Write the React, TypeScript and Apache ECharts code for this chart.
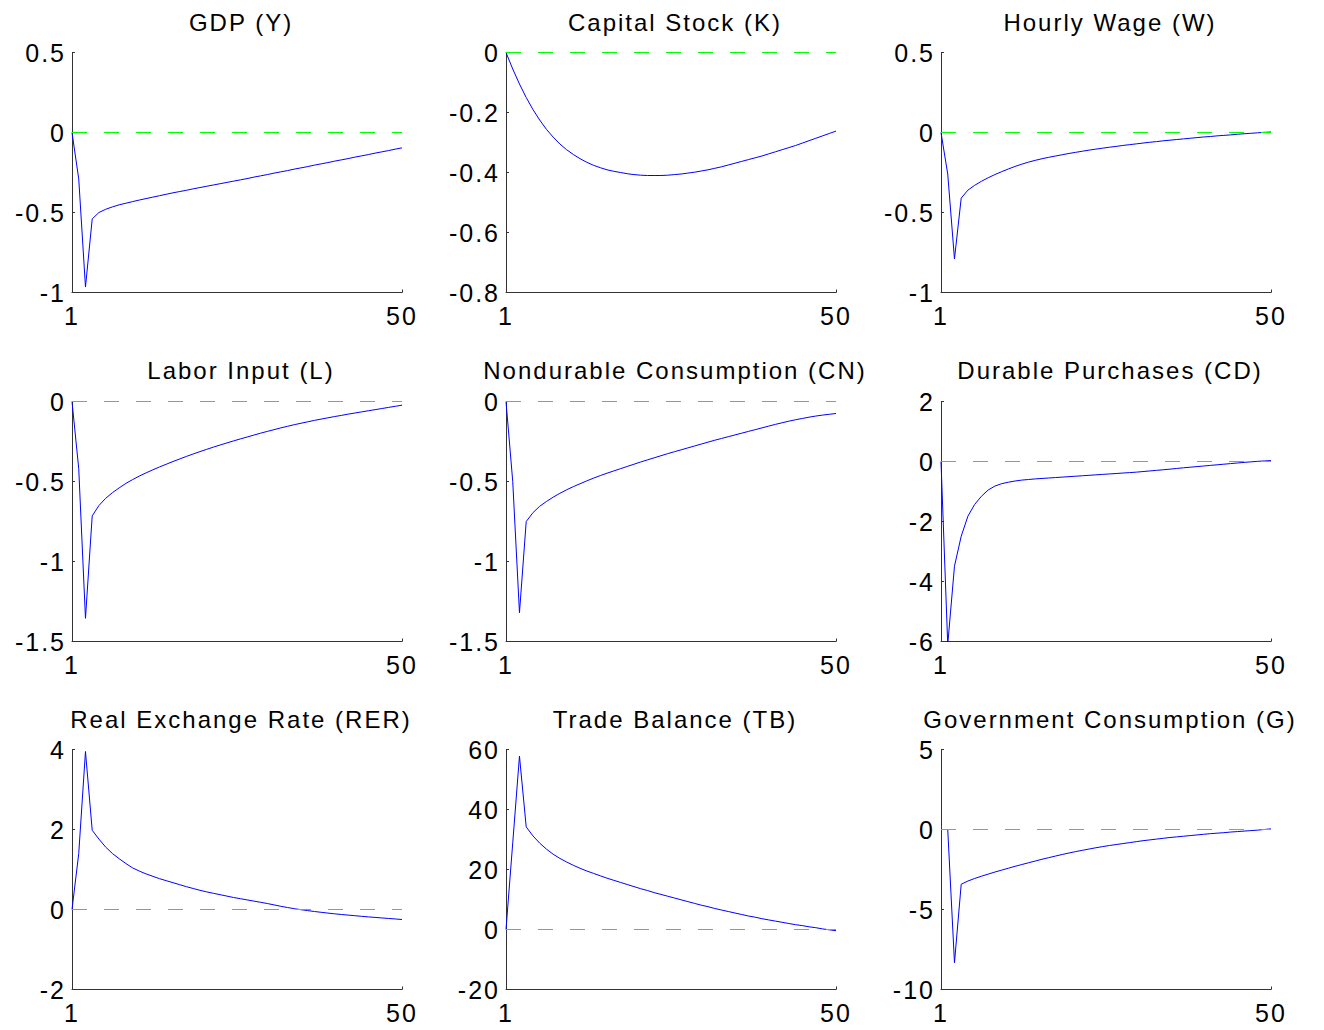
import React, { useEffect, useRef } from "react";
import * as echarts from "echarts";

const periods: number[] = Array.from({ length: 50 }, (_, i) => i + 1);
const xTickValues = [1, 50];

const titles = [
  "GDP (Y)",
  "Capital Stock (K)",
  "Hourly Wage (W)",
  "Labor Input (L)",
  "Nondurable Consumption (CN)",
  "Durable Purchases (CD)",
  "Real Exchange Rate (RER)",
  "Trade Balance (TB)",
  "Government Consumption (G)",
];

const yMins = [-1, -0.8, -1, -1.5, -1.5, -6, -2, -20, -10];
const yMaxs = [0.5, 0, 0.5, 0, 0, 2, 4, 60, 5];
const ySteps = [0.5, 0.2, 0.5, 0.5, 0.5, 2, 2, 20, 5];

const gdp = [
  0, -0.29, -0.966, -0.54, -0.5, -0.48, -0.465, -0.452, -0.442, -0.432,
  -0.422, -0.413, -0.404, -0.395, -0.386, -0.377, -0.369, -0.361, -0.352, -0.344,
  -0.336, -0.328, -0.32, -0.312, -0.304, -0.296, -0.288, -0.279, -0.271, -0.263,
  -0.254, -0.246, -0.238, -0.229, -0.221, -0.213, -0.204, -0.196, -0.188, -0.179,
  -0.171, -0.163, -0.154, -0.146, -0.138, -0.129, -0.121, -0.113, -0.104, -0.096,
];
const capital = [
  0, -0.055, -0.105, -0.15, -0.19, -0.225, -0.256, -0.282, -0.305, -0.324,
  -0.34, -0.354, -0.366, -0.376, -0.384, -0.391, -0.396, -0.4, -0.404, -0.407,
  -0.409, -0.41, -0.41, -0.41, -0.409, -0.407, -0.405, -0.402, -0.399, -0.395,
  -0.391, -0.386, -0.381, -0.375, -0.369, -0.363, -0.357, -0.351, -0.345, -0.338,
  -0.331, -0.324, -0.317, -0.31, -0.302, -0.294, -0.286, -0.278, -0.27, -0.262,
];
const wage = [
  0, -0.26, -0.79, -0.41, -0.36, -0.33, -0.305, -0.283, -0.263, -0.245,
  -0.228, -0.212, -0.198, -0.185, -0.174, -0.164, -0.155, -0.147, -0.139, -0.131,
  -0.124, -0.117, -0.11, -0.104, -0.098, -0.092, -0.087, -0.081, -0.076, -0.071,
  -0.066, -0.061, -0.057, -0.052, -0.048, -0.044, -0.04, -0.036, -0.032, -0.028,
  -0.025, -0.021, -0.018, -0.015, -0.011, -0.008, -0.005, -0.002, 0.001, 0.003,
];
const labor = [
  0, -0.42, -1.355, -0.715, -0.65, -0.605, -0.57, -0.54, -0.512, -0.488,
  -0.466, -0.446, -0.427, -0.409, -0.392, -0.375, -0.359, -0.343, -0.328, -0.313,
  -0.299, -0.285, -0.272, -0.259, -0.246, -0.234, -0.222, -0.21, -0.198, -0.187,
  -0.176, -0.165, -0.155, -0.145, -0.136, -0.127, -0.118, -0.11, -0.102, -0.094,
  -0.087, -0.079, -0.072, -0.065, -0.058, -0.051, -0.044, -0.037, -0.03, -0.023,
];
const nondurable = [
  0, -0.5, -1.32, -0.75, -0.695, -0.655, -0.625, -0.598, -0.574, -0.552,
  -0.532, -0.514, -0.496, -0.479, -0.463, -0.448, -0.434, -0.42, -0.406, -0.392,
  -0.378, -0.365, -0.352, -0.339, -0.326, -0.314, -0.302, -0.29, -0.278, -0.266,
  -0.254, -0.242, -0.231, -0.22, -0.209, -0.198, -0.187, -0.176, -0.165, -0.154,
  -0.143, -0.133, -0.123, -0.114, -0.106, -0.098, -0.091, -0.085, -0.08, -0.075,
];
const durable = [
  0, -6.1, -3.49, -2.49, -1.82, -1.43, -1.16, -0.95, -0.82, -0.74,
  -0.69, -0.65, -0.62, -0.6, -0.58, -0.565, -0.55, -0.535, -0.52, -0.505,
  -0.49, -0.475, -0.46, -0.445, -0.43, -0.415, -0.4, -0.385, -0.37, -0.355,
  -0.335, -0.315, -0.295, -0.275, -0.255, -0.232, -0.21, -0.19, -0.17, -0.15,
  -0.13, -0.11, -0.09, -0.07, -0.05, -0.03, -0.012, 0.005, 0.018, 0.03,
];
const exchangeRate = [
  0, 1.4, 3.95, 1.98, 1.76, 1.56, 1.4, 1.27, 1.15, 1.04,
  0.96, 0.89, 0.83, 0.77, 0.72, 0.67, 0.62, 0.57, 0.525, 0.48,
  0.44, 0.405, 0.37, 0.335, 0.3, 0.27, 0.24, 0.21, 0.18, 0.15,
  0.115, 0.08, 0.05, 0.02, -0.005, -0.028, -0.05, -0.07, -0.09, -0.108,
  -0.125, -0.14, -0.155, -0.17, -0.185, -0.198, -0.211, -0.224, -0.237, -0.25,
];
const tradeBalance = [
  0, 28.9, 57.8, 34.2, 31.2, 28.8, 26.8, 25.1, 23.7, 22.5,
  21.4, 20.4, 19.5, 18.7, 17.9, 17.1, 16.4, 15.7, 15.0, 14.3,
  13.6, 13.0, 12.3, 11.7, 11.1, 10.5, 9.9, 9.3, 8.7, 8.1,
  7.6, 7.0, 6.5, 6.0, 5.5, 5.0, 4.5, 4.1, 3.6, 3.2,
  2.8, 2.4, 2.0, 1.6, 1.3, 0.9, 0.6, 0.2, -0.1, -0.4,
];
const government = [
  0, 0, -8.33, -3.42, -3.22, -3.06, -2.92, -2.79, -2.66, -2.54,
  -2.42, -2.3, -2.19, -2.08, -1.97, -1.86, -1.76, -1.66, -1.56, -1.47,
  -1.38, -1.3, -1.22, -1.14, -1.07, -1.0, -0.94, -0.88, -0.82, -0.76,
  -0.7, -0.65, -0.6, -0.55, -0.5, -0.46, -0.42, -0.38, -0.34, -0.3,
  -0.26, -0.23, -0.2, -0.16, -0.13, -0.1, -0.07, -0.04, 0.0, 0.04,
];

const seriesValues = [gdp, capital, wage, labor, nondurable, durable, exchangeRate, tradeBalance, government];

const FONT = "'Liberation Sans', Arial, sans-serif";
const colLefts = [72, 506, 941];
const rowTops = [52.5, 401.5, 749.5];
const PW = 330;
const PH = 240;
const titleTops = [10, 358, 707];
const titleShift = 4;

export default function App() {
  const ref = useRef<HTMLDivElement>(null);
  useEffect(() => {
    if (!ref.current) return;
    const chart = echarts.init(ref.current, undefined, { renderer: "svg" });
    const grid: any[] = [];
    const xAxis: any[] = [];
    const yAxis: any[] = [];
    const series: any[] = [];
    const title: any[] = [];
    const axisColor = "#333333";
    for (let i = 0; i < 9; i++) {
      const r = Math.floor(i / 3);
      const c = i % 3;
      grid.push({ left: colLefts[c], top: rowTops[r], width: PW, height: PH, containLabel: false });
      title.push({
        text: titles[i],
        left: colLefts[c] + PW / 2 + titleShift,
        top: titleTops[r],
        textAlign: "center",
        padding: 0,
        textStyle: { fontFamily: FONT, fontSize: 24, fontWeight: "normal", color: "#000" },
      });
      xAxis.push({
        type: "value",
        gridIndex: i,
        min: 1,
        max: 50,
        splitLine: { show: false },
        axisLine: { show: true, onZero: false, lineStyle: { color: axisColor, width: 1 } },
        axisTick: { show: true, inside: true, length: 3, customValues: xTickValues, lineStyle: { color: axisColor } },
        axisLabel: {
          customValues: xTickValues,
          margin: 11,
          fontFamily: FONT,
          fontSize: 25,
          color: "#000",
        },
      });
      yAxis.push({
        type: "value",
        gridIndex: i,
        min: yMins[i],
        max: yMaxs[i],
        interval: ySteps[i],
        splitLine: { show: false },
        axisLine: { show: true, onZero: false, lineStyle: { color: axisColor, width: 1 } },
        axisTick: { show: true, inside: true, length: 3, lineStyle: { color: axisColor } },
        axisLabel: {
          margin: 6,
          fontFamily: FONT,
          fontSize: 25,
          color: "#000",
          showMinLabel: true,
          showMaxLabel: true,
          padding: [3, 0, 0, 0],
        },
      });
      series.push({
        type: "line",
        xAxisIndex: i,
        yAxisIndex: i,
        data: periods.map((p, k) => [p, seriesValues[i][k]]),
        showSymbol: false,
        symbol: "none",
        clip: true,
        lineStyle: { color: "#0000ff", width: 1 },
        z: 2,
      });
      series.push({
        type: "line",
        xAxisIndex: i,
        yAxisIndex: i,
        data: xTickValues.map((p) => [p, 0]),
        showSymbol: false,
        symbol: "none",
        lineStyle: { color: "#00ff00", width: 1, type: [15, 17] },
        z: 3,
      });
    }
    chart.setOption({
      animation: false,
      backgroundColor: "#ffffff",
      textStyle: { fontFamily: FONT },
      title,
      grid,
      xAxis,
      yAxis,
      series,
    });
    return () => chart.dispose();
  }, []);
  return (
    <div
      ref={ref}
      style={{
        position: "absolute",
        left: 0,
        top: 0,
        width: 1324,
        height: 1030,
        letterSpacing: "2px",
      }}
    />
  );
}
